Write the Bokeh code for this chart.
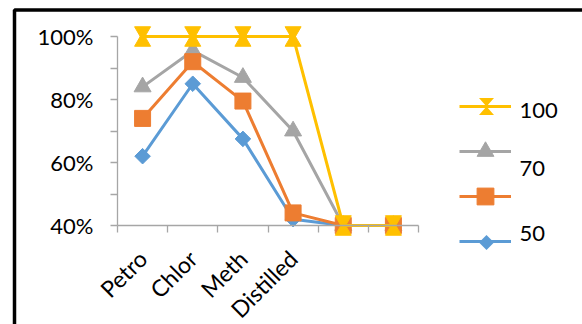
from math import pi

from bokeh.plotting import figure
from bokeh.models import (Range1d, FixedTicker, NumeralTickFormatter, Legend, LegendItem,
                          Label, PolyAnnotation, BoxAnnotation, ColumnDataSource)
from bokeh.transform import dodge
from bokeh.embed import file_html
from bokeh.resources import INLINE

# ---- data -------------------------------------------------------------
categories = ["Petro", "Chlor", "Meth", "Distilled", "", ""]
vals_100 = [1.00, 1.00, 1.00, 1.00, 0.40, 0.40]
vals_70 = [0.84, 0.955, 0.87, 0.70, 0.40, 0.40]
vals_orange = [0.74, 0.92, 0.795, 0.44, 0.40, 0.40]
vals_50 = [0.62, 0.85, 0.675, 0.42, 0.40, 0.40]
legend_labels = ["100", "70", "50"]
y_ticks = [0.4, 0.6, 0.8, 1.0]
y_minor_ticks = [0.5, 0.7, 0.9]

# ---- style ------------------------------------------------------------
YELLOW = "#FFC000"
GRAY = "#A5A5A5"
ORANGE = "#ED7D31"
BLUE = "#5B9BD5"
AXIS = "#A6A6A6"
FONT = "Lato"
FS = "22px"

W, H = 582, 324
# plot area in canvas pixels: x from 117 to 418, y(100%) at 36, y(40%) at 225
LEFT, RIGHT, TOP, BOTTOM = 117, 418, 36, 225
Y_LO, Y_HI = y_ticks[0], y_ticks[-1]
n = len(categories)
px_x = (RIGHT - LEFT) / n
px_y = (BOTTOM - TOP) / (Y_HI - Y_LO)

xs = [i + 0.5 for i in range(n)]
src = ColumnDataSource(dict(x=xs, v100=vals_100))

# the frame spans the whole canvas; axes sit at fixed data locations
p = figure(width=W, height=H, output_backend="svg", toolbar_location=None,
           x_range=Range1d(-LEFT / px_x, (W - LEFT) / px_x),
           y_range=Range1d(Y_LO - (H - BOTTOM) / px_y, Y_HI + TOP / px_y),
           min_border_left=0, min_border_right=0, min_border_top=0, min_border_bottom=0)
p.xgrid.visible = False
p.ygrid.visible = False
p.outline_line_color = None
p.background_fill_color = "white"
p.border_fill_color = "white"

# x axis: ticks between categories, labels at category centres
xa = p.xaxis[0]
xa.ticker = FixedTicker(ticks=xs, minor_ticks=list(range(n + 1)))
xa.major_label_overrides = {x: c for x, c in zip(xs, categories)}
xa.fixed_location = Y_LO
xa.bounds = (0, n)
xa.axis_line_color = AXIS
xa.axis_line_width = 1.3
xa.major_tick_in = 0
xa.major_tick_out = 0
xa.minor_tick_in = 0
xa.minor_tick_out = 7
xa.minor_tick_line_color = AXIS
xa.minor_tick_line_width = 1.3
xa.major_label_orientation = pi / 4
xa.major_label_standoff = 22
xa.major_label_text_font = FONT
xa.major_label_text_font_size = "23px"
xa.major_label_text_color = "black"

# y axis: percentages
ya = p.yaxis[0]
ya.ticker = FixedTicker(ticks=y_ticks, minor_ticks=y_minor_ticks)
ya.formatter = NumeralTickFormatter(format="0%")
ya.fixed_location = 0
ya.bounds = (Y_LO, Y_HI)
ya.axis_line_color = AXIS
ya.axis_line_width = 1.3
ya.major_tick_in = 0
ya.major_tick_out = 7
ya.major_tick_line_color = AXIS
ya.major_tick_line_width = 1.3
ya.minor_tick_in = 0
ya.minor_tick_out = 7
ya.minor_tick_line_color = AXIS
ya.minor_tick_line_width = 1.3
ya.major_label_standoff = 17
ya.major_label_text_font = FONT
ya.major_label_text_font_size = FS
ya.major_label_text_color = "black"

# ---- series -----------------------------------------------------------
l50 = p.line(xs, vals_50, line_color=BLUE, line_width=3, line_join="round")
m50 = p.scatter(xs, vals_50, marker="square", angle=pi / 4, size=11,
                fill_color=BLUE, line_color=BLUE)

l70 = p.line(xs, vals_70, line_color=GRAY, line_width=3, line_join="round")
m70 = p.scatter(xs, vals_70, marker="triangle", size=17,
                fill_color=GRAY, line_color=GRAY)

lor = p.line(xs, vals_orange, line_color=ORANGE, line_width=3, line_join="round")
mor = p.scatter(xs, vals_orange, marker="square", size=16,
                fill_color=ORANGE, line_color=ORANGE)

l100 = p.line(xs, vals_100, line_color=YELLOW, line_width=3, line_join="round")
# hourglass marker: an inverted triangle above and a triangle below the point
HG = 16
shift = (HG / 2 * 3 ** 0.5 / 3 + 0.5) / px_y
p.scatter(x="x", y=dodge("v100", shift), source=src, marker="inverted_triangle",
          size=HG, fill_color=YELLOW, line_color=YELLOW)
p.scatter(x="x", y=dodge("v100", -shift), source=src, marker="triangle",
          size=HG, fill_color=YELLOW, line_color=YELLOW)

# ---- legend -----------------------------------------------------------
legend = Legend(items=[
    LegendItem(label=" ", renderers=[l100]),
    LegendItem(label=" ", renderers=[l70, m70]),
    LegendItem(label=" ", renderers=[lor, mor]),
    LegendItem(label=" ", renderers=[l50]),
], location=(459, 62), glyph_width=52, glyph_height=42, spacing=3,
    padding=0, margin=0, border_line_color=None, background_fill_alpha=0,
    label_standoff=5, label_width=10)
p.add_layout(legend, "center")

# hourglass and diamond swatches on the first and last legend entries
cx, hw, hh = 486, 7.5, 8.5
cy = H - 106
p.add_layout(PolyAnnotation(xs=[cx - hw, cx + hw, cx - hw, cx + hw],
                            ys=[cy + hh, cy + hh, cy - hh, cy - hh],
                            xs_units="screen", ys_units="screen",
                            fill_color=YELLOW, fill_alpha=1, line_color=None))
cy, hd = H - 242, 7.5
p.add_layout(PolyAnnotation(xs=[cx, cx + hd, cx, cx - hd],
                            ys=[cy + hd, cy, cy - hd, cy],
                            xs_units="screen", ys_units="screen",
                            fill_color=BLUE, fill_alpha=1, line_color=None))

for text, ly in zip(legend_labels, [110, 168, 233]):
    p.add_layout(Label(x=519, y=H - ly, x_units="screen", y_units="screen", text=text,
                       text_baseline="middle", text_font=FONT, text_font_size=FS,
                       text_color="black"))

# outer frame line
p.add_layout(BoxAnnotation(left=14, right=W + 100, top=H - 9.5, bottom=-100,
                           left_units="screen", right_units="screen",
                           top_units="screen", bottom_units="screen",
                           fill_alpha=0, line_color="black", line_width=3.5,
                           line_alpha=1))

open("out.html", "w").write(file_html(p, INLINE))
